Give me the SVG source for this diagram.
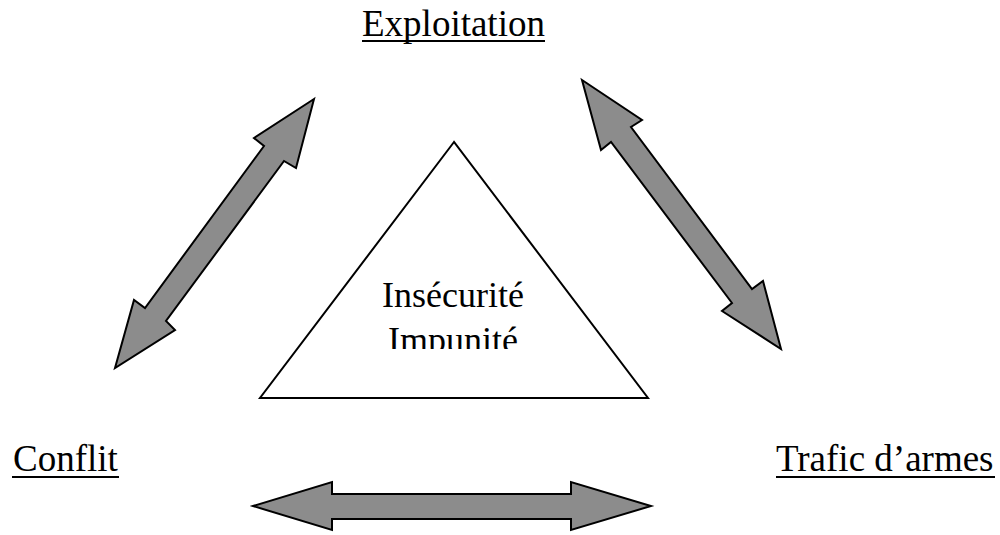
<svg xmlns="http://www.w3.org/2000/svg" width="1000" height="535" viewBox="0 0 1000 535">
<style>
.lbl{font-family:"Liberation Serif","Times New Roman",serif;font-size:37px;fill:#000}
.in{font-size:36px}
.ul{stroke:#000;stroke-width:2}
.arrow{fill:#8c8c8c;stroke:#000;stroke-width:2;stroke-linejoin:miter}
.tri{fill:#fff;stroke:#000;stroke-width:2}
</style>
<defs>
<clipPath id="triclip"><rect x="260" y="140" width="390" height="209"/></clipPath>
</defs>
<rect width="1000" height="535" fill="#fff"/>
<g id="connectors">
<polygon class="arrow" points="314,99 254,138 264,146 145,308 134,300 115,368 175,330 166,321 284,161 296,168"/>
<polygon class="arrow" points="582,80 642,120 631,127 752,289 763,281 781,349 722,311 732,303 611,142 601,150"/>
<polygon class="arrow" points="253,506 332,482 332,494 571,494 571,482 651,506 571,530 571,519 332,519 332,530"/>
</g>
<g id="center">
<polygon class="tri" points="454,142 260,398 648,398"/>
<g clip-path="url(#triclip)">
<text class="lbl in" x="453" y="307" text-anchor="middle">Insécurité</text>
<text class="lbl in" x="453" y="352" text-anchor="middle">Impunité</text>
</g>
</g>
<g id="exploitation"><text class="lbl" x="362" y="36">Exploitation</text><line class="ul" x1="362" y1="41" x2="545" y2="41"/></g>
<g id="conflit"><text class="lbl" x="13" y="471">Conflit</text><line class="ul" x1="12" y1="477" x2="119" y2="477"/></g>
<g id="trafic"><text class="lbl" x="776" y="471">Trafic d’armes</text><line class="ul" x1="776" y1="477" x2="995" y2="477"/></g>
</svg>
